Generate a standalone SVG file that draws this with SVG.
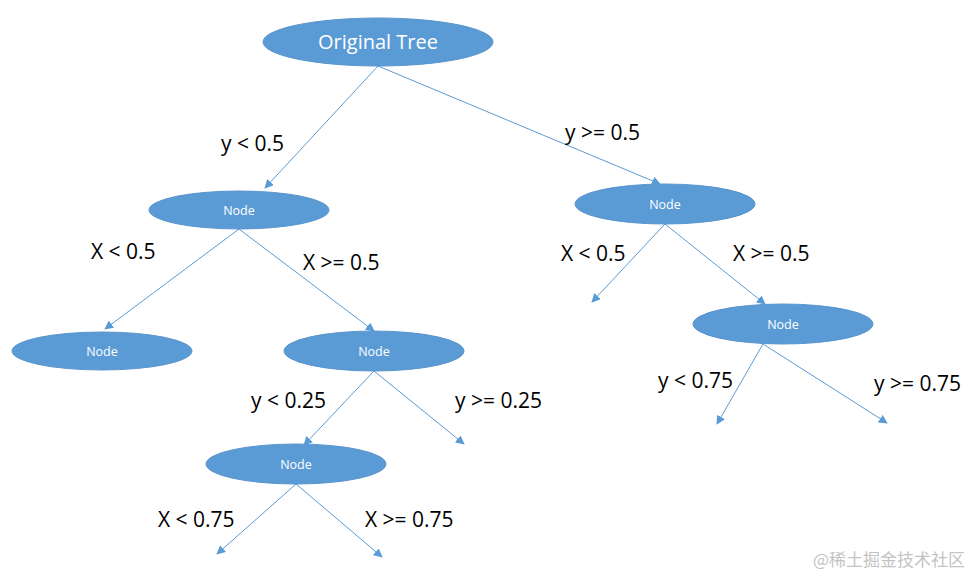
<svg xmlns="http://www.w3.org/2000/svg" width="976" height="576" viewBox="0 0 976 576">
<defs>
<marker id="arr" viewBox="0 0 10 10" refX="9" refY="5" markerWidth="9" markerHeight="9" markerUnits="userSpaceOnUse" orient="auto">
<path d="M0,0 L10,5 L0,10 z" fill="#5B9BD5"/>
</marker>
<style>
.n{fill:#5B9BD5;stroke:#5A95CC;stroke-width:1}
.t{fill:#fff;font-family:"Open Sans","DejaVu Sans",sans-serif;text-anchor:middle}
.e{stroke:#5B9BD5;stroke-width:1;fill:none;marker-end:url(#arr)}
.l{fill:#000;font-family:"Open Sans","DejaVu Sans",sans-serif;font-size:21px}
</style>
</defs>
<rect width="976" height="576" fill="#fff"/>
<g id="connectors">
<line class="e" x1="378" y1="66" x2="265" y2="188"/>
<line class="e" x1="378" y1="66" x2="660" y2="184"/>
<line class="e" x1="239" y1="229" x2="105" y2="329"/>
<line class="e" x1="239" y1="229" x2="374" y2="331"/>
<line class="e" x1="665" y1="224" x2="592" y2="302"/>
<line class="e" x1="665" y1="224" x2="765" y2="304"/>
<line class="e" x1="374" y1="371" x2="304" y2="445"/>
<line class="e" x1="374" y1="371" x2="464" y2="444"/>
<line class="e" x1="763" y1="344" x2="717" y2="424"/>
<line class="e" x1="763" y1="344" x2="887" y2="423"/>
<line class="e" x1="296" y1="484" x2="217" y2="554"/>
<line class="e" x1="296" y1="484" x2="382" y2="557"/>
</g>
<g id="labels">
<text class="l" x="221" y="151">y &lt; 0.5</text>
<text class="l" x="565" y="140">y &gt;= 0.5</text>
<text class="l" x="91" y="259">X &lt; 0.5</text>
<text class="l" x="303" y="270">X &gt;= 0.5</text>
<text class="l" x="561" y="261">X &lt; 0.5</text>
<text class="l" x="733" y="261">X &gt;= 0.5</text>
<text class="l" x="251" y="408">y &lt; 0.25</text>
<text class="l" x="455" y="408">y &gt;= 0.25</text>
<text class="l" x="658" y="388">y &lt; 0.75</text>
<text class="l" x="874" y="391">y &gt;= 0.75</text>
<text class="l" x="158" y="527">X &lt; 0.75</text>
<text class="l" x="365" y="527">X &gt;= 0.75</text>
</g>
<g id="root"><ellipse class="n" cx="378" cy="42" rx="115" ry="24"/><text class="t" x="378" y="49" font-size="20">Original Tree</text></g>
<g id="nodeA"><ellipse class="n" cx="239" cy="210" rx="90" ry="19"/><text class="t" x="239" y="215" font-size="12.5">Node</text></g>
<g id="nodeB"><ellipse class="n" cx="665" cy="204" rx="90" ry="20"/><text class="t" x="665" y="209" font-size="12.5">Node</text></g>
<g id="nodeC"><ellipse class="n" cx="102" cy="351" rx="90" ry="19"/><text class="t" x="102" y="356" font-size="12.5">Node</text></g>
<g id="nodeD"><ellipse class="n" cx="374" cy="351" rx="90" ry="20"/><text class="t" x="374" y="356" font-size="12.5">Node</text></g>
<g id="nodeE"><ellipse class="n" cx="783" cy="324" rx="90" ry="20"/><text class="t" x="783" y="329" font-size="12.5">Node</text></g>
<g id="nodeF"><ellipse class="n" cx="296" cy="464" rx="90" ry="20"/><text class="t" x="296" y="469" font-size="12.5">Node</text></g>
<text x="965" y="566" text-anchor="end" font-family="'Noto Sans CJK SC',sans-serif" font-size="17" fill="#c4c4c4">@稀土掘金技术社区</text>
</svg>
